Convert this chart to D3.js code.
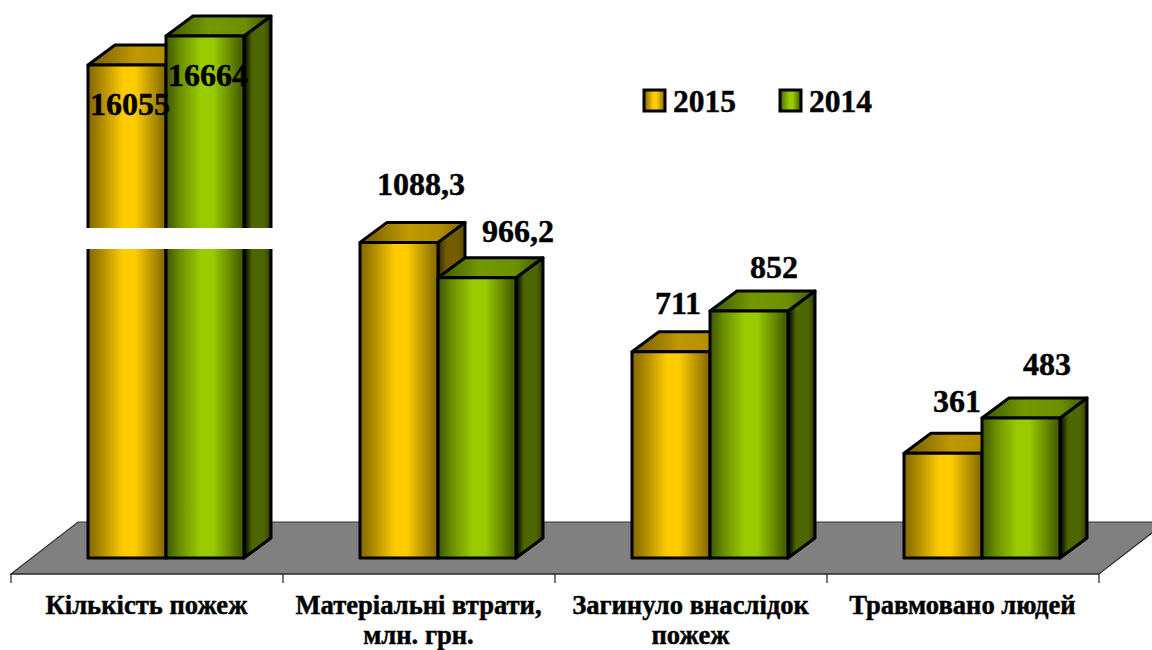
<!DOCTYPE html>
<html><head><meta charset="utf-8">
<script src="https://cdnjs.cloudflare.com/ajax/libs/d3/7.8.5/d3.min.js"></script>
<style>html,body{margin:0;padding:0;background:#fff;overflow:hidden}svg{display:block}text{font-family:"Liberation Serif",serif;font-weight:bold;fill:#000;stroke:#000;stroke-width:.45px}</style>
</head><body><svg width="1152" height="650"></svg>
<script>
const categories = [["Кількість пожеж"],["Матеріальні втрати,","млн. грн."],["Загинуло внаслідок","пожеж"],["Травмовано людей"]];
const seriesNames = ["2015","2014"];
const values2015 = [16055,1088.3,711,361];
const values2014 = [16664,966.2,852,483];
const labels2015 = ["16055","1088,3","711","361"];
const labels2014 = ["16664","966,2","852","483"];
const labelOffsets2015 = [[3,50],[22,-47],[7,-38],[14,-41]];
const labelOffsets2014 = [[3,50],[41,-36],[25,-33],[26,-43]];

const svg = d3.select("svg");
const defs = svg.append("defs");
function grad(id, stops){
  const g = defs.append("linearGradient").attr("id",id).attr("x1",0).attr("x2",1).attr("y1",0).attr("y2",0);
  stops.forEach(s=>g.append("stop").attr("offset",s[0]).attr("stop-color",s[1]));
}
grad("y-front",[[0,"#806600"],[.18,"#b08c00"],[.45,"#ffcc00"],[.6,"#ffcc00"],[.8,"#c09a00"],[1,"#806600"]]);
grad("g-front",[[0,"#3f5400"],[.18,"#6b8f00"],[.45,"#99cc00"],[.6,"#99cc00"],[.82,"#688a00"],[1,"#3f5400"]]);
grad("y-top",[[0,"#6f5800"],[.45,"#bf9900"],[.75,"#b38f00"],[1,"#806600"]]);
grad("g-top",[[0,"#3f5400"],[.4,"#739900"],[.75,"#6b8f00"],[1,"#3f5400"]]);
grad("y-side",[[0,"#2e2500"],[.3,"#735c00"],[.75,"#735c00"],[1,"#5c4900"]]);
grad("g-side",[[0,"#000"],[.3,"#4d6600"],[.75,"#4d6600"],[1,"#2a3800"]]);

const band = d3.scaleBand().domain(d3.range(categories.length)).range([11,1099]);
const inner = d3.scaleBand().domain(seriesNames).range([0,156]);
// value axis with a break: the two top values sit on a compressed upper segment
const y = d3.scaleLinear().domain([0,1100,16055,16664]).range([558,239,65,36]);
const dx = 27, dy = 20, floorDx = 67, floorDy = 52, floorY = 574;

// floor
const x0 = band.range()[0], x1 = band.range()[1];
svg.append("path").attr("d",`M${x0},${floorY}L${x0+floorDx},${floorY-floorDy}L${x1+floorDx},${floorY-floorDy}L${x1},${floorY}Z`)
  .attr("fill","#808080").attr("stroke","#333").attr("stroke-width",1.2);
// axis
const tickG = svg.append("g");
tickG.append("line").attr("x1",x0).attr("x2",x1).attr("y1",floorY).attr("y2",floorY).attr("stroke","#222").attr("stroke-width",1.2);
d3.range(categories.length+1).forEach(i=>{
  const x = x0 + i*band.step();
  tickG.append("line").attr("x1",x).attr("x2",x).attr("y1",floorY).attr("y2",floorY+9).attr("stroke","#222").attr("stroke-width",1.2);
});

const series = [
  {name:"2015",key:"y",vals:values2015,labels:labels2015,off:labelOffsets2015},
  {name:"2014",key:"g",vals:values2014,labels:labels2014,off:labelOffsets2014}
];
const base = y(0);
series.forEach(s=>{
  s.vals.forEach((v,i)=>{
    const l = band(i)+77+inner(s.name), w = inner.bandwidth(), r = l+w, t = y(v);
    const g = svg.append("g").attr("stroke","#000").attr("stroke-width",3).attr("stroke-linejoin","round");
    g.append("path").attr("fill",`url(#${s.key}-side)`).attr("d",`M${r},${t}L${r+dx},${t-dy}L${r+dx},${base-dy}L${r},${base}Z`);
    g.append("path").attr("fill",`url(#${s.key}-top)`).attr("d",`M${l},${t}L${l+dx},${t-dy}L${r+dx},${t-dy}L${r},${t}Z`);
    g.append("rect").attr("fill",`url(#${s.key}-front)`).attr("x",l).attr("y",t).attr("width",w).attr("height",base-t);
  });
});
// axis break band
svg.append("rect").attr("x",86).attr("y",y(0)-330).attr("width",188).attr("height",21).attr("fill","#fff");

// data labels
series.forEach(s=>{
  s.vals.forEach((v,i)=>{
    const cx = band(i)+77+inner(s.name)+inner.bandwidth()/2;
    svg.append("text").attr("x",cx+s.off[i][0]).attr("y",y(v)+s.off[i][1]).attr("text-anchor","middle")
      .attr("font-size",32).text(s.labels[i]);
  });
});
// category labels
categories.forEach((c,i)=>{
  const t = svg.append("text").attr("text-anchor","middle").attr("font-size",26.6);
  c.forEach((line,j)=>t.append("tspan").attr("x",band(i)+band.bandwidth()/2-0.5).attr("y",614+j*30).text(line));
});
// legend
const legendX = [644,780];
series.forEach((s,i)=>{
  svg.append("rect").attr("x",legendX[i]).attr("y",90).attr("width",21).attr("height",21)
    .attr("fill",`url(#${s.key}-front)`).attr("stroke","#000").attr("stroke-width",3);
  svg.append("text").attr("x",legendX[i]+29).attr("y",112).attr("font-size",31.5).text(s.name);
});
</script></body></html>
